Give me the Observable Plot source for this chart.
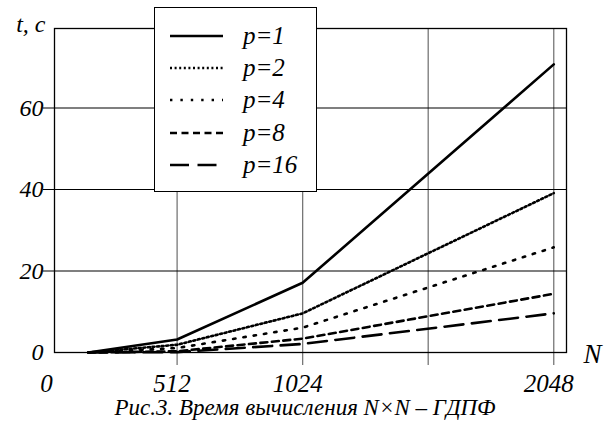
<!DOCTYPE html>
<html><head><meta charset="utf-8">
<script src="https://cdn.jsdelivr.net/npm/d3@7"></script>
<script src="https://cdn.jsdelivr.net/npm/@observablehq/plot@0.6"></script>
<style>
body{margin:0;background:#fff;}
#wrap{position:relative;width:610px;height:421px;color:#000;}
#wrap svg{display:block;}
#legend{position:absolute;left:154px;top:7px;width:161px;height:183px;border:1.5px solid #000;background:#fff;}
.row{position:absolute;left:0;height:32px;line-height:32px;width:100%;}
.row svg{position:absolute;left:14.5px;top:12px;}
.row span{position:absolute;left:88px;top:0;font-size:25px;font-family:Tinos;font-style:italic;}
#caption{position:absolute;left:0;top:396px;width:610px;text-align:center;font-size:23px;line-height:23px;font-family:Tinos;font-style:italic;}
</style>
</head><body>
<div id="wrap"><div id="chart"></div><div id="legend"></div><div id="caption"></div></div>
<script>
// ---- data ----
const nValues = [150, 512, 1024, 2048];
const tP1  = [0, 3.2, 17.1, 70.7];
const tP2  = [0, 1.9, 9.6, 39.1];
const tP4  = [0, 1.1, 6.1, 25.8];
const tP8  = [0, 0.3, 3.4, 14.4];
const tP16 = [0, 0.1, 2.1, 9.6];
const seriesLabels = ["p=1", "p=2", "p=4", "p=8", "p=16"];
const xTickLabels = [0, 512, 1024, 2048];
const xGrid = [512, 1024, 1536, 2048];
const yTickLabels = [0, 20, 40, 60];
const yGrid = [20, 40, 60];
const yTitle = "t, c";
const xTitle = "N";
const captionText = "Рис.3. Время вычисления N×N – ГДПФ";

// ---- styles ----
const dashes = [null, "2,2.6", "2.4,8", "7,4.5", "19,8.5"];
const font = "Tinos";

const allT = [tP1, tP2, tP4, tP8, tP16];
const rows = [];
seriesLabels.forEach((s, i) => nValues.forEach((n, j) => rows.push({p: s, N: n, t: allT[i][j]})));

const chart = Plot.plot({
  width: 610, height: 400,
  marginTop: 28, marginBottom: 48, marginLeft: 54, marginRight: 44,
  x: {domain: [12, 2100], axis: null},
  y: {domain: [0, 79.5], axis: null},
  style: {background: "white", overflow: "visible"},
  marks: [
    Plot.ruleX(xGrid, {x: d => d, stroke: "#777", strokeWidth: 1.3, insetBottom: -13}),
    Plot.ruleY(yGrid, {y: d => d, stroke: "#000", strokeWidth: 1.1, insetLeft: -11}),
    Plot.frame({stroke: "#000", strokeWidth: 1.3}),
    ...seriesLabels.map((s, i) => Plot.line(rows.filter(r => r.p === s), {
      x: "N", y: "t", stroke: "#000", strokeWidth: 2.6,
      strokeDasharray: dashes[i] || undefined, strokeLinejoin: "round"
    })),
    Plot.text(yTickLabels, {y: d => d, text: d => String(d), frameAnchor: "left", textAnchor: "end",
      lineAnchor: "middle", dx: -11, fontSize: 24, fontStyle: "italic", fill: "#000", fontFamily: font}),
    Plot.text(xTickLabels, {x: d => d, text: d => String(d), frameAnchor: "bottom", textAnchor: "middle",
      lineAnchor: "top", dy: 22, dx: -5, fontSize: 25, fontStyle: "italic", fill: "#000", fontFamily: font}),
    Plot.text([yTitle], {text: d => d, frameAnchor: "top-left", textAnchor: "end", lineAnchor: "middle",
      dx: -9, dy: -4, fontSize: 24, fontStyle: "italic", fill: "#000", fontFamily: font}),
    Plot.text([xTitle], {text: d => d, frameAnchor: "bottom-right", textAnchor: "start", lineAnchor: "middle",
      dx: 17, dy: 2, fontSize: 27, fontStyle: "italic", fill: "#000", fontFamily: font})
  ]
});
document.getElementById("chart").appendChild(chart);

// ---- legend ----
const legend = d3.select("#legend");
seriesLabels.forEach((s, i) => {
  const row = legend.append("div").attr("class", "row").style("top", (11.5 + i * 32.4) + "px");
  const svg = row.append("svg").attr("width", 53).attr("height", 8);
  svg.append("line").attr("x1", 0).attr("x2", 53).attr("y1", 4).attr("y2", 4)
    .attr("stroke", "#000").attr("stroke-width", 2.6)
    .attr("stroke-dasharray", dashes[i]);
  row.append("span").text(s);
});
document.getElementById("caption").textContent = captionText;
</script>
</body></html>
